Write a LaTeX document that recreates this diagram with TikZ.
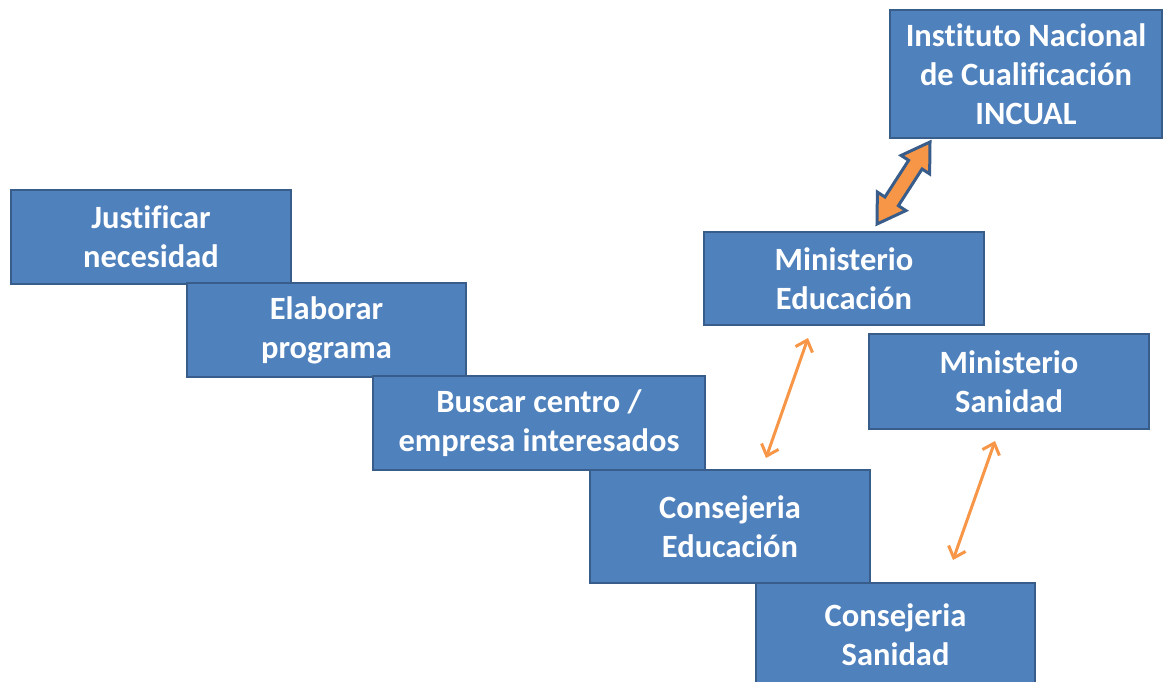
\documentclass[tikz,border=0pt]{standalone}
\usepackage{fontspec}
\setmainfont{Carlito}[RawFeature={-liga;-clig;-dlig}]
\usetikzlibrary{calc,arrows.meta}
\definecolor{boxfill}{HTML}{4F81BD}
\definecolor{boxline}{HTML}{385D8A}
\definecolor{orangeA}{HTML}{F79646}
\tikzset{
  box/.style={draw=boxline, line width=2pt, fill=boxfill, text=white,
    font=\fontsize{32.5}{39}\selectfont\bfseries, align=center, inner sep=0pt},
  thinarrow/.style={draw=orangeA, line width=3pt, {Straight Barb[length=10pt,width=18pt]}-{Straight Barb[length=10pt,width=18pt]}},
  bigarrow/.style={draw=boxline, line width=3pt, fill=orangeA, line join=miter}
}
\begin{document}
\begin{tikzpicture}[x=1pt,y=-1pt]
\useasboundingbox (0,0) rectangle (1164,681);
\fill[white] (0,0) rectangle (1164,681);
\node[box, minimum width=280pt, minimum height=94pt] (J) at (151,237) {Justificar\\necesidad};
\node[box, minimum width=279pt, minimum height=94pt] (E) at (326.5,330) {Elaborar\\programa};
\node[box, minimum width=332pt, minimum height=94pt] (B) at (539,423) {Buscar centro /\\empresa interesados};
\node[box, minimum width=280pt, minimum height=113pt] (CE) at (730,526.5) {Consejeria\\Educación};
\node[box, minimum width=279pt, minimum height=104pt] (CS) at (895.5,635) {Consejeria\\Sanidad};
\node[box, minimum width=280pt, minimum height=93pt] (ME) at (844,278.5) {Ministerio\\Educación};
\node[box, minimum width=280pt, minimum height=95pt] (MS) at (1009,381.5) {Ministerio\\Sanidad};
\node[box, minimum width=272pt, minimum height=128pt] (IN) at (1026,74) {Instituto Nacional\\de Cualificación\\INCUAL};
% thin arrows
\coordinate (a1) at (808,338);
\coordinate (a2) at (766,458);
\coordinate (b1) at (995,441);
\coordinate (b2) at (953,560);
\draw[thinarrow] (a2) -- (a1);
\draw[thinarrow] (b2) -- (b1);
% thick double arrow
\coordinate (TA) at (877,224);
\coordinate (TB) at (930,142);
\coordinate (P1) at ($(TA)!27pt!(TB)$);
\coordinate (P2) at ($(TB)!27pt!(TA)$);
\draw[bigarrow] (TA) -- ($(P1)!17pt!90:(TB)$) -- ($(P1)!8pt!90:(TB)$)
  -- ($(P2)!8pt!-90:(TA)$) -- ($(P2)!17pt!-90:(TA)$) -- (TB)
  -- ($(P2)!17pt!90:(TA)$) -- ($(P2)!8pt!90:(TA)$)
  -- ($(P1)!8pt!-90:(TB)$) -- ($(P1)!17pt!-90:(TB)$) -- cycle;
\end{tikzpicture}
\end{document}
